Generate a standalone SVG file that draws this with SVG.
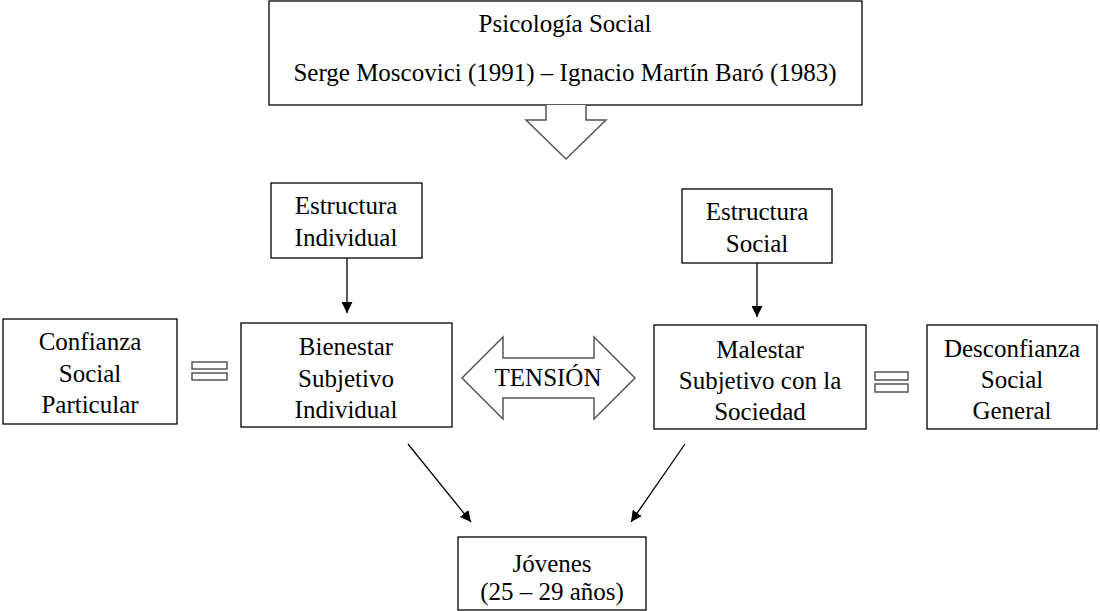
<svg xmlns="http://www.w3.org/2000/svg" width="1100" height="611" viewBox="0 0 1100 611">
<style>
.box{fill:#fff;stroke:#000;stroke-width:1.3}
.t{font-family:"Liberation Serif","Times New Roman",serif;font-size:25px;fill:#000;text-anchor:middle}
.blk{fill:#fff;stroke:#555;stroke-width:1.5}
.eq{fill:#fff;stroke:#555;stroke-width:1.5}
.ln{stroke:#000;stroke-width:1.3;fill:none}
</style>
<defs>
<marker id="ah" viewBox="0 0 10 10" refX="10" refY="5" markerWidth="11" markerHeight="11" markerUnits="userSpaceOnUse" orient="auto">
<path d="M0,0 L10,5 L0,10 z" fill="#000"/>
</marker>
</defs>
<g id="psicologia">
<rect class="box" x="269" y="1" width="593" height="104"/>
<text class="t" x="565" y="32">Psicología Social</text>
<text class="t" x="565" y="81">Serge Moscovici (1991) – Ignacio Martín Baró (1983)</text>
</g>
<g id="downarrow">
<path class="blk" d="M546,105 L546,120 L526,120 L566,159 L606,120 L586,120 L586,105"/>
</g>
<g id="estructura-individual">
<rect class="box" x="271" y="183" width="151" height="75"/>
<text class="t" x="346" y="214">Estructura</text>
<text class="t" x="346" y="246">Individual</text>
</g>
<g id="estructura-social">
<rect class="box" x="682" y="189" width="150" height="74"/>
<text class="t" x="757" y="220">Estructura</text>
<text class="t" x="757" y="252">Social</text>
</g>
<g id="confianza">
<rect class="box" x="3" y="319" width="174" height="105"/>
<text class="t" x="90" y="350">Confianza</text>
<text class="t" x="90" y="382">Social</text>
<text class="t" x="90" y="413">Particular</text>
</g>
<g id="eq-left">
<rect class="eq" x="192" y="362" width="35" height="7"/>
<rect class="eq" x="192" y="373" width="35" height="7"/>
</g>
<g id="bienestar">
<rect class="box" x="241" y="323" width="211" height="104"/>
<text class="t" x="346" y="355">Bienestar</text>
<text class="t" x="346" y="387">Subjetivo</text>
<text class="t" x="346" y="418">Individual</text>
</g>
<g id="tension">
<path class="blk" d="M462,378 L503,337 L503,358 L594,358 L594,337 L635,378 L594,419 L594,398 L503,398 L503,419 Z"/>
<text class="t" x="548" y="386">TENSIÓN</text>
</g>
<g id="malestar">
<rect class="box" x="654" y="325" width="212" height="104"/>
<text class="t" x="760" y="358">Malestar</text>
<text class="t" x="760" y="389">Subjetivo con la</text>
<text class="t" x="760" y="420">Sociedad</text>
</g>
<g id="eq-right">
<rect class="eq" x="875" y="372" width="33" height="8"/>
<rect class="eq" x="875" y="384" width="33" height="8"/>
</g>
<g id="desconfianza">
<rect class="box" x="927" y="325" width="170" height="104"/>
<text class="t" x="1012" y="357">Desconfianza</text>
<text class="t" x="1012" y="388">Social</text>
<text class="t" x="1012" y="419">General</text>
</g>
<g id="jovenes">
<rect class="box" x="458" y="537" width="188" height="73"/>
<text class="t" x="552" y="572">Jóvenes</text>
<text class="t" x="552" y="600">(25 – 29 años)</text>
</g>
<g id="connectors">
<line class="ln" x1="347" y1="258" x2="347" y2="313" marker-end="url(#ah)"/>
<line class="ln" x1="757" y1="263" x2="757" y2="317" marker-end="url(#ah)"/>
<line class="ln" x1="408" y1="444" x2="471" y2="522" marker-end="url(#ah)"/>
<line class="ln" x1="685" y1="444" x2="631" y2="522" marker-end="url(#ah)"/>
</g>
</svg>
